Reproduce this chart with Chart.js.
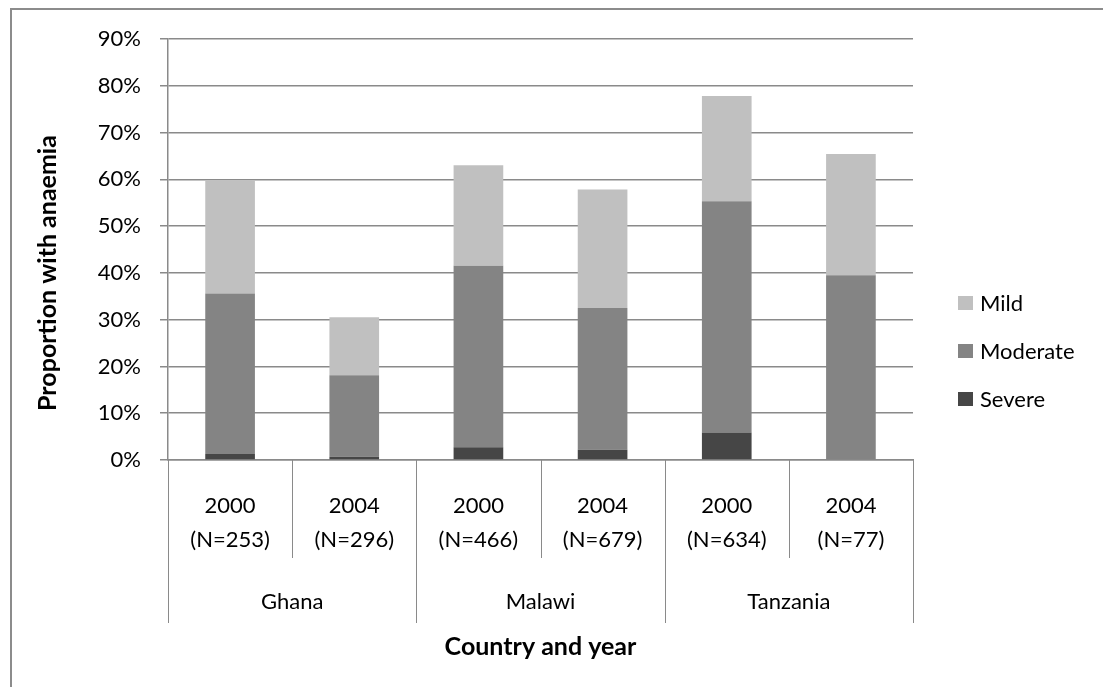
<!DOCTYPE html>
<html>
<head>
<meta charset="utf-8">
<title>Anaemia by country and year</title>
<script src="https://cdn.jsdelivr.net/npm/chart.js@4.4.1/dist/chart.umd.min.js"></script>
<style>
  html, body { margin: 0; padding: 0; background: #fff; }
  #wrap { position: relative; width: 1103px; height: 687px; overflow: hidden; }
  #frame { position: absolute; left: 10px; top: 8px; width: 1200px; height: 800px;
           border: 2px solid #8c8c8c; box-sizing: border-box; }
  #chart { position: absolute; left: 0; top: 0; }
</style>
</head>
<body>
<div id="wrap">
  <div id="frame"></div>
  <canvas id="chart" width="1103" height="687"></canvas>
</div>
<script>
// survey rounds, grouped two per country
const years = [
  ['2000', '(N=253)'], ['2004', '(N=296)'],
  ['2000', '(N=466)'], ['2004', '(N=679)'],
  ['2000', '(N=634)'], ['2004', '(N=77)']
];
const countries = ['Ghana', 'Malawi', 'Tanzania'];

// percent of children in each anaemia class
const severe   = [1.3, 0.7, 2.7, 2.2, 5.9, 0];
const moderate = [34.3, 17.4, 38.8, 30.3, 49.4, 39.5];
const mild     = [24.2, 12.4, 21.5, 25.3, 22.5, 25.9];

const yMax = 90;
const yStep = 10;

const FONT = 'Lato, "Open Sans", sans-serif';
const GRID = '#8a8a8a';

// country row, separators, y title and legend
const extras = {
  id: 'extras',
  afterDraw(chart) {
    const ctx = chart.ctx;
    const x = chart.scales.x;
    const area = chart.chartArea;
    const step = (x.right - x.left) / years.length;

    ctx.save();
    ctx.strokeStyle = GRID;
    ctx.lineWidth = 1;
    for (let i = 0; i <= years.length; i++) {
      const px = Math.round(x.left + i * step) + 0.5;
      const depth = i % 2 === 0 ? 163 : 98;
      ctx.beginPath();
      ctx.moveTo(px, x.top);
      ctx.lineTo(px, x.top + depth);
      ctx.stroke();
    }

    ctx.fillStyle = '#000';
    ctx.font = '22px ' + FONT;
    ctx.textAlign = 'center';
    ctx.textBaseline = 'middle';
    countries.forEach((c, k) => {
      const cx = (x.getPixelForValue(2 * k) + x.getPixelForValue(2 * k + 1)) / 2;
      ctx.fillText(c, cx, x.top + 142);
    });

    // y axis title
    ctx.save();
    ctx.translate(48, 273);
    ctx.rotate(-Math.PI / 2);
    ctx.font = 'bold 25px ' + FONT;
    ctx.fillText('Proportion with anaemia', 0, 0);
    ctx.restore();

    // legend, top item is the top of the stack
    const items = chart.data.datasets.slice().reverse();
    ctx.font = '22px ' + FONT;
    ctx.textAlign = 'left';
    items.forEach((ds, i) => {
      const cy = 303 + i * 48;
      ctx.fillStyle = ds.backgroundColor;
      ctx.fillRect(area.right + 45, cy - 7, 15, 14);
      ctx.fillStyle = '#000';
      ctx.fillText(ds.label, area.right + 67, cy + 1);
    });
    ctx.restore();
  }
};

new Chart(document.getElementById('chart'), {
  type: 'bar',
  data: {
    labels: years,
    datasets: [
      { label: 'Severe', data: severe, backgroundColor: '#464646' },
      { label: 'Moderate', data: moderate, backgroundColor: '#848484' },
      { label: 'Mild', data: mild, backgroundColor: '#c0c0c0' }
    ]
  },
  options: {
    responsive: false,
    animation: false,
    layout: { padding: { top: 39, right: 190, left: 0, bottom: 0 } },
    datasets: { bar: { barPercentage: 0.4, categoryPercentage: 1 } },
    plugins: { legend: { display: false }, tooltip: { enabled: false } },
    scales: {
      x: {
        stacked: true,
        grid: { display: false, drawTicks: false },
        border: { display: true, color: GRID, width: 1.5 },
        ticks: { color: '#000', padding: 29, maxRotation: 0,
                 font: { family: FONT, size: 22, lineHeight: 1.55 } },
        title: { display: true, text: 'Country and year', color: '#000',
                 font: { family: FONT, size: 25, weight: 'bold' },
                 padding: { top: 0, bottom: 25 } },
        afterFit(scale) { scale.height = 227; }
      },
      y: {
        stacked: true,
        min: 0,
        max: yMax,
        grid: { color: GRID, lineWidth: 1.5, tickLength: 8 },
        border: { display: true, color: GRID, width: 1.5 },
        ticks: { stepSize: yStep, padding: 19, color: '#000',
                 font: { family: FONT, size: 22 },
                 callback: v => v + '%' },
        afterFit(scale) { scale.width = 168; }
      }
    }
  },
  plugins: [extras]
});
</script>
</body>
</html>
